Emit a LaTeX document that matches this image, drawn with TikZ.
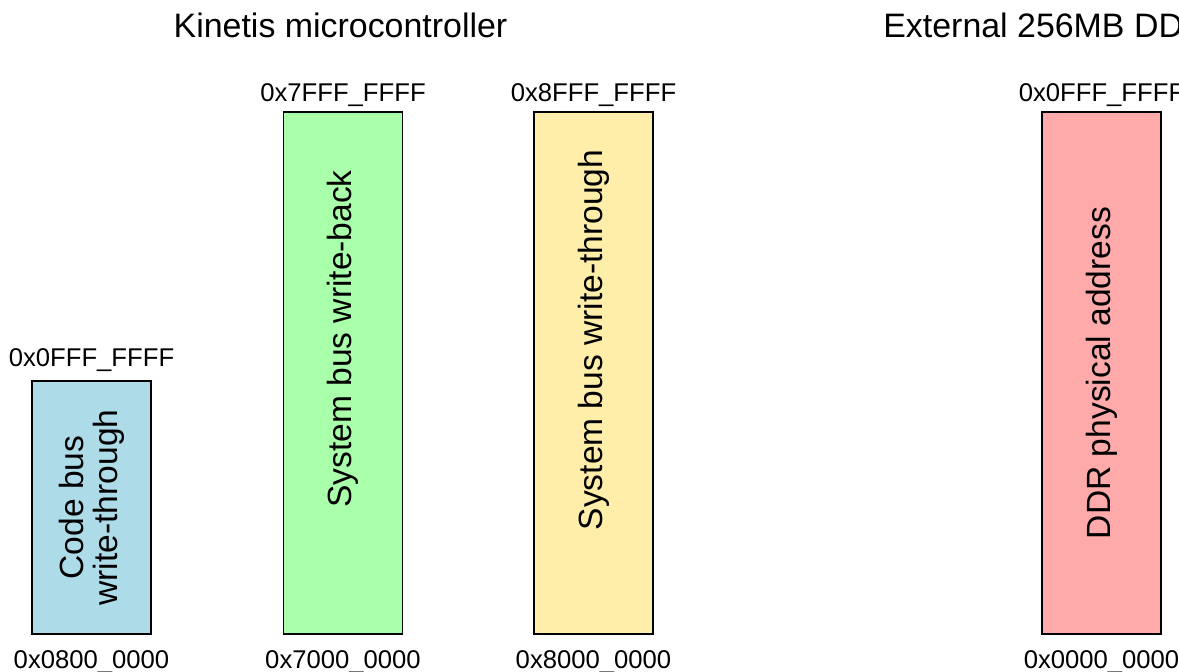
\documentclass[tikz,border=0pt]{standalone}
\usepackage{fontspec}
\setmainfont{Liberation Sans}
\usepackage{tikz}
\usetikzlibrary{positioning}
\usepackage{xcolor}

\definecolor{codeblue}{RGB}{173,219,232}
\definecolor{wbgreen}{RGB}{170,255,170}
\definecolor{wtyellow}{RGB}{255,238,170}
\definecolor{ddrred}{RGB}{255,170,170}

\begin{document}
\begin{tikzpicture}[
  region/.style={rectangle, draw, line width=0.9pt, minimum width=2.38cm, inner sep=0pt},
  caption/.style={rotate=90, align=center, font=\fontsize{19.1}{19.3}\selectfont, inner sep=0pt},
  addr/.style={font=\fontsize{14.6}{16}\selectfont, inner sep=0pt},
  heading/.style={font=\fontsize{19.3}{22}\selectfont, inner sep=0pt}
]
\useasboundingbox (0,0) rectangle (23.58,13.42);
\clip (0,0) rectangle (23.58,13.42);

% Headings
\node[heading, anchor=base] (kinetis) at (6.81,12.66) {Kinetis microcontroller};
\node[heading, anchor=base west] (external) at (17.66,12.66) {External 256MB DDR};

% Code bus region
\node[region, fill=codeblue, minimum height=5.06cm] (code) at (1.83,3.27) {};
\node[caption] (codetxt) at (code) {Code bus\\write-through};
\node[addr, above=1.6mm of code] (codetop) {0x0FFF\_FFFF};
\node[addr, below=3.0mm of code] (codebot) {0x0800\_0000};

% System bus write-back region
\node[region, fill=wbgreen, minimum height=10.44cm] (wback) at (6.86,5.96) {};
\node[caption] (wbacktxt) at (6.86,6.64) {System bus write-back};
\node[addr, above=0.8mm of wback] (wbacktop) {0x7FFF\_FFFF};
\node[addr, below=3.0mm of wback] (wbackbot) {0x7000\_0000};

% System bus write-through region
\node[region, fill=wtyellow, minimum height=10.44cm] (wthru) at (11.87,5.96) {};
\node[caption] (wthrutxt) at (11.87,6.62) {System bus write-through};
\node[addr, above=0.8mm of wthru] (wthrutop) {0x8FFF\_FFFF};
\node[addr, below=3.0mm of wthru] (wthrubot) {0x8000\_0000};

% DDR region
\node[region, fill=ddrred, minimum height=10.44cm] (ddr) at (22.03,5.96) {};
\node[caption] (ddrtxt) at (ddr) {DDR physical address};
\node[addr, above=0.8mm of ddr] (ddrtop) {0x0FFF\_FFFF};
\node[addr, below=3.0mm of ddr] (ddrbot) {0x0000\_0000};

\end{tikzpicture}
\end{document}
